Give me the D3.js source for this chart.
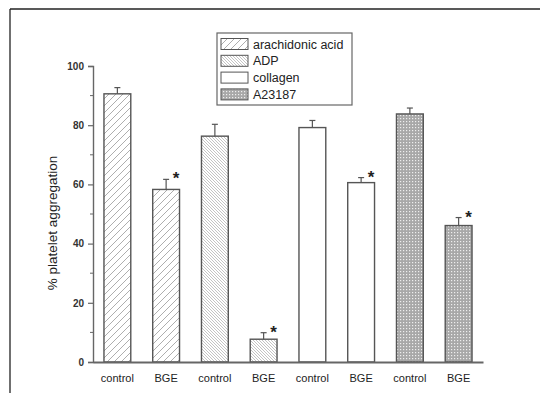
<!DOCTYPE html>
<html>
<head>
<meta charset="utf-8">
<script src="https://cdn.jsdelivr.net/npm/d3@7"></script>
<style>
  body { margin: 0; background: #fff; }
  svg { display: block; font-family: Arial, "Liberation Sans", sans-serif; }
</style>
</head>
<body>
<svg id="chart" width="540" height="393"></svg>
<script>
// data
const labels = ['control', 'BGE', 'control', 'BGE', 'control', 'BGE', 'control', 'BGE'];
const agonists = ['arachidonic acid', 'ADP', 'collagen', 'A23187'];
const barAgonist = [0, 0, 1, 1, 2, 2, 3, 3];
const means = [90.6, 58.3, 76.3, 7.7, 79.2, 60.6, 83.8, 46.1];
const errors = [2.1, 3.4, 4.0, 2.2, 2.4, 1.7, 2.0, 2.7];
const significant = [false, true, false, true, false, true, false, true];
const yTicks = [0, 20, 40, 60, 80, 100];
const yMinorTicks = [10, 30, 50, 70, 90];

const svg = d3.select('#chart');
const plotLeft = 93, plotRight = 483, plotTop = 66, plotBottom = 362;

// frame around the figure
svg.append('line').attr('x1', 10).attr('y1', 9).attr('x2', 540).attr('y2', 9)
  .attr('stroke', '#222').attr('stroke-width', 1.3);
svg.append('line').attr('x1', 10).attr('y1', 9).attr('x2', 10).attr('y2', 393)
  .attr('stroke', '#222').attr('stroke-width', 1.3);

// patterns
const defs = svg.append('defs');
let p = defs.append('pattern').attr('id', 'pat0').attr('patternUnits', 'userSpaceOnUse')
  .attr('width', 7).attr('height', 7);
p.append('rect').attr('width', 7).attr('height', 7).attr('fill', '#fff');
p.append('path').attr('d', 'M-1,8 L8,-1 M-1,1 L1,-1 M6,8 L8,6')
  .attr('stroke', '#999').attr('stroke-width', 0.8);

p = defs.append('pattern').attr('id', 'pat1').attr('patternUnits', 'userSpaceOnUse')
  .attr('width', 3).attr('height', 3);
p.append('rect').attr('width', 3).attr('height', 3).attr('fill', '#fff');
p.append('path').attr('d', 'M-1,-1 L4,4 M2,-1 L4,1 M-1,2 L1,4')
  .attr('stroke', '#aaa').attr('stroke-width', 0.7);

p = defs.append('pattern').attr('id', 'pat3').attr('patternUnits', 'userSpaceOnUse')
  .attr('width', 3).attr('height', 3);
p.append('rect').attr('width', 3).attr('height', 3).attr('fill', '#a8a8a8');
p.append('rect').attr('x', 1).attr('y', 1).attr('width', 1.2).attr('height', 1.2).attr('fill', '#eee');

const fills = ['url(#pat0)', 'url(#pat1)', '#fff', 'url(#pat3)'];

const x = d3.scaleBand().domain(d3.range(labels.length)).range([plotLeft, plotRight])
  .paddingInner(0.45).paddingOuter(0.225);
const y = d3.scaleLinear().domain([0, 100]).range([plotBottom, plotTop]);

// bars
svg.selectAll('rect.bar').data(means).join('rect')
  .attr('class', 'bar')
  .attr('x', (d, i) => x(i))
  .attr('y', d => y(d))
  .attr('width', x.bandwidth())
  .attr('height', d => plotBottom - y(d))
  .attr('fill', (d, i) => fills[barAgonist[i]])
  .attr('stroke', '#555').attr('stroke-width', 1.4);

// error bars (upper half only) and stars
const eb = svg.append('g').attr('stroke', '#555').attr('stroke-width', 1.2);
means.forEach((m, i) => {
  const cx = x(i) + x.bandwidth() / 2;
  const yTop = y(m + errors[i]);
  eb.append('line').attr('x1', cx).attr('x2', cx).attr('y1', y(m)).attr('y2', yTop);
  eb.append('line').attr('x1', cx - 3).attr('x2', cx + 3).attr('y1', yTop).attr('y2', yTop);
  if (significant[i]) {
    svg.append('text')
      .attr('x', cx + 10)
      .attr('y', yTop + 5)
      .attr('text-anchor', 'middle')
      .attr('font-size', 17).attr('font-weight', 'bold').attr('fill', '#222')
      .text('*');
  }
});

// y axis
const yAxis = svg.append('g').attr('transform', `translate(${plotLeft},0)`)
  .call(d3.axisLeft(y).tickValues(yTicks).tickSize(5).tickPadding(4));
yAxis.select('.domain').attr('stroke', '#666').attr('stroke-width', 1.4);
yAxis.selectAll('.tick line').attr('stroke', '#666').attr('stroke-width', 1.2);
yAxis.selectAll('.tick text').attr('font-size', 10).attr('font-weight', 'bold')
  .attr('fill', '#333').attr('font-family', 'Arial, "Liberation Sans", sans-serif');
svg.append('g').selectAll('line').data(yMinorTicks).join('line')
  .attr('x1', plotLeft - 3).attr('x2', plotLeft).attr('y1', d => y(d)).attr('y2', d => y(d))
  .attr('stroke', '#666').attr('stroke-width', 1);

// x axis
const xAxis = svg.append('g').attr('transform', `translate(0,${plotBottom})`)
  .call(d3.axisBottom(x).tickSize(0).tickPadding(12).tickFormat(i => labels[i]));
xAxis.select('.domain').attr('stroke', '#666').attr('stroke-width', 2.2);
xAxis.selectAll('.tick text').attr('font-size', 11).attr('fill', '#222')
  .attr('font-family', 'Arial, "Liberation Sans", sans-serif');

// y label
svg.append('text')
  .attr('transform', 'translate(57,223) rotate(-90)')
  .attr('text-anchor', 'middle')
  .attr('font-size', 13.5).attr('fill', '#222')
  .text('% platelet aggregation');

// legend
const lg = svg.append('g');
lg.append('rect').attr('x', 217).attr('y', 33).attr('width', 135).attr('height', 72)
  .attr('fill', '#fff').attr('stroke', '#666').attr('stroke-width', 1.2);
agonists.forEach((a, i) => {
  const cy = 44 + i * 16.8;
  lg.append('rect').attr('x', 221).attr('y', cy - 5.5).attr('width', 27).attr('height', 11)
    .attr('fill', fills[i]).attr('stroke', '#555').attr('stroke-width', 1);
  lg.append('text').attr('x', 253).attr('y', cy + 4.5)
    .attr('font-size', 12.5).attr('fill', '#222').text(a);
});
</script>
</body>
</html>
